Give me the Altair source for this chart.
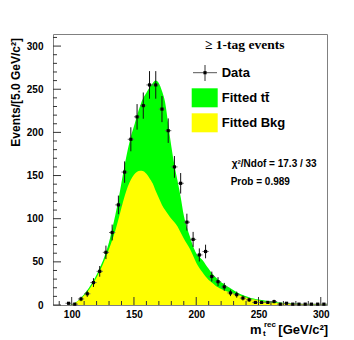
import altair as alt
import pandas as pd

# ---------------- data ----------------
bin_centres = [97.5, 102.5, 107.5, 112.5, 117.5, 122.5, 127.5, 132.5, 137.5, 142.5,
               147.5, 152.5, 157.5, 162.5, 167.5, 172.5, 177.5, 182.5, 187.5, 192.5,
               197.5, 202.5, 207.5, 212.5, 217.5, 222.5, 227.5, 232.5, 237.5, 242.5,
               247.5, 252.5, 257.5, 262.5, 267.5, 272.5, 277.5, 282.5, 287.5, 292.5,
               297.5, 302.5]
counts = [2, 1, 7, 13, 26, 39, 61, 84, 116, 154,
          192, 218, 231, 255, 255, 227, 202, 160, 141, 96,
          76, 58, 62, 33, 27, 21, 14, 12, 8, 6,
          3, 3, 3, 4, 1, 2, 1, 1, 1, 1,
          1, 1]
errors = [1.4, 1.0, 2.6, 3.6, 5.1, 6.2, 7.8, 9.2, 10.8, 12.4,
          13.9, 14.8, 15.2, 16.0, 16.0, 15.1, 14.2, 12.6, 11.9, 9.8,
          8.7, 7.6, 7.9, 5.7, 5.2, 4.6, 3.7, 3.5, 2.8, 2.4,
          1.7, 1.7, 1.7, 2.0, 1.0, 1.4, 1.0, 1.0, 1.0, 1.0,
          1.0, 1.0]

fit_x = [97.5, 100, 102.5, 105, 107.5, 110, 112.5, 115, 117.5, 120,
         122.5, 125, 127.5, 130, 132.5, 135, 137.5, 140, 142.5, 145,
         147.5, 150, 152.5, 155, 157.5, 160, 162.5, 165, 167.5, 170,
         172.5, 175, 177.5, 180, 182.5, 185, 187.5, 190, 192.5, 195,
         197.5, 200, 202.5, 205, 207.5, 210, 212.5, 215, 217.5, 220,
         222.5, 225, 227.5, 230, 232.5, 235, 237.5, 240, 242.5, 245,
         247.5, 250, 252.5, 255, 257.5, 260, 262.5, 265, 267.5, 270,
         272.5, 275, 277.5, 280, 282.5, 285, 287.5, 290, 292.5, 295,
         297.5, 300, 302.5, 305]
fit_total = [0, 0.5, 2.5, 5, 8.5, 12.5, 17, 22.5, 28.5, 35,
             43, 51, 61, 73, 88, 104, 122, 142, 162, 180,
             195, 207, 220, 231, 240, 246, 252, 257, 260, 257,
             248, 235, 210, 184, 162, 144, 125, 104, 90, 79,
             68, 60, 56, 52, 47, 42, 37, 33, 29.5, 26.5,
             24, 21.5, 19.5, 17, 15, 13, 11.5, 10, 8.8, 7.8,
             7, 6.3, 5.7, 5.1, 4.6, 4.1, 3.7, 3.3, 3, 2.6,
             2.3, 2, 1.8, 1.6, 1.4, 1.2, 1.1, 1.0, 0.9, 0.8,
             0.7, 0.6, 0.5, 0.5]
fit_bkg = [0, 0.3, 2, 4.5, 7.5, 11, 15, 20, 26, 32,
           39, 47, 56, 65, 75, 86, 99, 113, 126, 137,
           145, 151, 154.5, 155.5, 155, 152, 147, 141, 132, 124,
           116, 110, 105, 100, 96, 91, 84, 77, 71, 65,
           57, 49, 43, 38, 33, 29, 26, 23, 20.5, 18.5,
           17, 15.5, 14.3, 13.3, 12.3, 11, 9.8, 8.7, 7.7, 6.8,
           6, 5.2, 4.5, 3.9, 3.4, 3, 2.6, 2.3, 2, 1.8,
           1.6, 1.4, 1.2, 1.1, 1, 0.9, 0.8, 0.7, 0.6, 0.55,
           0.5, 0.45, 0.4, 0.35]

x_major = [100, 150, 200, 250, 300]
x_minor = [90, 110, 120, 130, 140, 160, 170, 180, 190, 210, 220, 230, 240,
           260, 270, 280, 290]
y_major = [0, 50, 100, 150, 200, 250, 300]
y_minor = [10, 20, 30, 40, 60, 70, 80, 90, 110, 120, 130, 140, 160, 170, 180,
           190, 210, 220, 230, 240, 260, 270, 280, 290, 310]

# ---------------- layout ----------------
W, H = 274, 271
FONT = "Liberation Sans"
xs = alt.Scale(domain=[85, 305], nice=False, zero=False)
ys = alt.Scale(domain=[0, 314], nice=False)

fit = pd.DataFrame({"x": fit_x, "total": fit_total, "bkg": fit_bkg})
hist = pd.DataFrame({"m": bin_centres, "n": counts, "e": errors})
dummy = pd.DataFrame({"a": [0]})

xaxis = alt.Axis(values=x_major, tickSize=0, domain=False, grid=False, labelPadding=4,
                 labelFont=FONT, labelFontSize=10, labelFontWeight="bold",
                 labelColor="black", title=None, labelOverlap=False)
yaxis = alt.Axis(values=y_major, tickSize=0, domain=False, grid=False, labelPadding=10,
                 labelFont=FONT, labelFontSize=10, labelFontWeight="bold",
                 labelColor="black", title=None, labelOverlap=False)


def X(f):
    return alt.X(f, type="quantitative", scale=xs, axis=xaxis)


def Y(f):
    return alt.Y(f, type="quantitative", scale=ys, axis=yaxis)


green = alt.Chart(fit).mark_area(color="#00ff00", interpolate="monotone").encode(
    x=X("x"), y=Y("total"))
yellow = alt.Chart(fit).mark_area(color="#ffff00", interpolate="monotone").encode(
    x=X("x"), y=Y("bkg"))

tick_col = "#333333"
xt_major = alt.Chart(pd.DataFrame({"v": x_major})).mark_rule(color=tick_col).encode(
    x=X("v"), y=alt.value(H), y2=alt.value(H - 8))
xt_minor = alt.Chart(pd.DataFrame({"v": x_minor})).mark_rule(color=tick_col).encode(
    x=X("v"), y=alt.value(H), y2=alt.value(H - 4))
yt_major = alt.Chart(pd.DataFrame({"v": y_major})).mark_rule(color=tick_col).encode(
    y=Y("v"), x=alt.value(0), x2=alt.value(8))
yt_minor = alt.Chart(pd.DataFrame({"v": y_minor})).mark_rule(color=tick_col).encode(
    y=Y("v"), x=alt.value(0), x2=alt.value(4))

base = alt.Chart(hist).transform_calculate(
    xlo="datum.m - 2.5", xhi="datum.m + 2.5",
    ylo="datum.n - datum.e", yhi="datum.n + datum.e")
xerr = base.mark_rule(color="#666666", strokeWidth=1).encode(
    x=X("xlo:Q"), x2="xhi:Q", y=Y("n"))
yerr = base.mark_rule(color="#111111", strokeWidth=1).encode(
    x=X("m"), y=Y("ylo:Q"), y2="yhi:Q")
pts = alt.Chart(hist).mark_square(size=10, color="black", opacity=1).encode(
    x=X("m"), y=Y("n"))


def txt(s, x, y, size=12, weight="bold", font=FONT, align="left", angle=0):
    return alt.Chart(dummy).mark_text(
        text=s, align=align, baseline="middle", font=font, fontSize=size,
        fontWeight=weight, color="black", angle=angle).encode(
        x=alt.value(x), y=alt.value(y))


def rect(x1, x2, y1, y2, color):
    return alt.Chart(dummy).mark_rect(color=color).encode(
        x=alt.value(x1), x2=alt.value(x2), y=alt.value(y1), y2=alt.value(y2))


def rule(x1, x2, y1, y2, color):
    return alt.Chart(dummy).mark_rule(color=color).encode(
        x=alt.value(x1), x2=alt.value(x2), y=alt.value(y1), y2=alt.value(y2))


legend = [
    txt("≥ 1-tag events", 152, 11, size=13.5, font="Liberation Serif"),
    rule(140, 164, 38.7, 38.7, "#555555"),
    rule(152, 152, 31, 47, "#333333"),
    alt.Chart(dummy).mark_square(size=10, color="black", opacity=1).encode(
        x=alt.value(152), y=alt.value(38.7)),
    txt("Data", 168.7, 38.7, size=13),
    rect(138.7, 164.7, 54.3, 73.3, "#00ff00"),
    txt("Fitted tt\u0304", 168.7, 64.3, size=13),
    rect(138.7, 164.7, 79.3, 98.3, "#ffff00"),
    txt("Fitted Bkg", 168.7, 88.7, size=13),
    txt("χ²/Ndof = 17.3 / 33", 178.7, 130, size=10),
    txt("Prob = 0.989", 177.7, 148.3, size=10),
    # axis titles
    txt("m", 197, 296, size=13),
    txt("rec", 211, 290.5, size=8),
    txt("t", 210, 300, size=8),
    txt("[GeV/c²]", 225.3, 296, size=13),
    txt("Events/[5.0 GeV/c²]", -37, 4, size=12, align="right", angle=270),
]

chart = alt.layer(
    green, yellow, xt_major, xt_minor, yt_major, yt_minor, xerr, yerr, pts, *legend
).properties(
    width=W, height=H,
    autosize=alt.AutoSizeParams(type="none"),
    padding={"left": 45, "top": 26, "right": 15, "bottom": 34},
).configure_view(stroke="#808080", strokeWidth=1)

chart.save("out.html", embed_options={"renderer": "svg", "actions": False})
